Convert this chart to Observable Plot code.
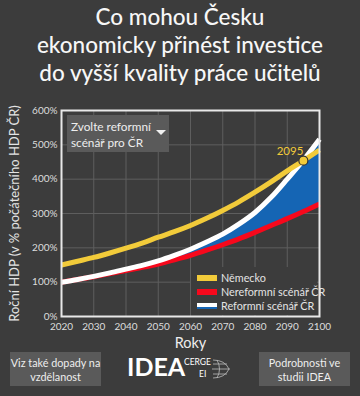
<!DOCTYPE html>
<html><head><meta charset="utf-8">
<script src="https://cdn.jsdelivr.net/npm/d3@7"></script>
<script src="https://cdn.jsdelivr.net/npm/@observablehq/plot@0.6"></script>
<style>
html,body{margin:0;padding:0;background:#3c3c3c;}
#wrap{position:relative;width:360px;height:396px;overflow:hidden;font-family:Lato,"Open Sans",sans-serif;color:#eee;}
#chart{position:absolute;left:0;top:0;}
#title{position:absolute;left:0;top:3px;width:360px;text-align:center;font-size:22.5px;line-height:28px;color:#f7f7f7;font-weight:500;}
#dropdown{position:absolute;left:67px;top:115px;width:102px;height:37px;background:#5a5a5a;color:#eee;font-size:11.8px;line-height:15.5px;box-sizing:border-box;padding:4px 0 0 4px;}
#dropdown .tri{position:absolute;left:89px;top:15px;width:0;height:0;border-left:5px solid transparent;border-right:5px solid transparent;border-top:5px solid #f0f0f0;}
#legend{position:absolute;left:191px;top:267px;width:126px;height:48px;background:#3c3c3c;font-size:10.8px;color:#e4e4e4;}
#legend .item{position:absolute;left:6px;height:14px;line-height:14px;white-space:nowrap;}
#legend .sw{display:inline-block;width:20px;height:6px;vertical-align:middle;margin-right:4px;position:relative;top:-1px;}
.btn{position:absolute;top:352px;width:91px;height:34px;background:#5a5a5a;color:#eee;font-size:10.8px;line-height:13.5px;text-align:center;box-sizing:border-box;padding-top:4px;}
#logo{position:absolute;left:127px;top:354px;width:110px;height:30px;}
#logo .idea{position:absolute;left:0;top:-3px;font-size:25px;font-weight:bold;color:#fff;letter-spacing:0;}
#logo .cerge{position:absolute;left:57px;top:3px;font-size:8.5px;color:#fff;}
#logo .ei{position:absolute;left:72px;top:15px;font-size:8.5px;color:#fff;}
</style></head><body>
<div id="wrap">
<div id="chart"></div>
<div id="title">Co mohou Česku<br>ekonomicky přinést investice<br>do vyšší kvality práce učitelů</div>
<div id="dropdown">Zvolte reformní<br>scénář pro ČR<div class="tri"></div></div>
<div id="legend"></div>
<div class="btn" style="left:10px">Viz také dopady na<br>vzdělanost</div>
<div class="btn" style="left:259px">Podrobnosti ve<br>studii IDEA</div>
<div id="logo"><span class="idea">IDEA</span><span class="cerge">CERGE</span><span class="ei">EI</span>
<svg style="position:absolute;left:58px;top:2px" width="50" height="26" viewBox="0 0 50 26" fill="none" stroke="#bbb" stroke-width="0.8">
<path d="M28 4 Q40 4 44 13 Q40 22 28 22"/><path d="M32 4 Q37 13 32 22"/><path d="M27 13 L45 13"/><path d="M28 8 L42 8"/><path d="M28 18 L42 18"/></svg>
</div>
</div>
<script>
const years      = [2020,2025,2030,2035,2040,2045,2050,2055,2060,2065,2070,2075,2080,2085,2090,2095,2100];
const germany    = [150, 161, 172, 185, 199, 214, 231, 247, 265, 286, 309, 334, 362, 392, 424, 454, 485];
const nonReform  = [100, 108, 116, 125, 134, 143, 153, 165, 178, 193, 209, 226, 245, 265, 285, 306, 328];
const reform     = [100, 108, 117, 127, 138, 149, 162, 178, 196, 217, 240, 269, 303, 347, 400, 455, 516];
const crossYear  = [2095];
const crossValue = [454];
const crossLabel = ["2095"];
const xTicks = [2020,2030,2040,2050,2060,2070,2080,2090,2100];
const yTicks = [0,100,200,300,400,500,600];
const seriesNames = ["Německo","Nereformní scénář ČR","Reformní scénář ČR"];
const colors = {de:"#f2cb3a", nr:"#f7081c", rf:"#ffffff", fill:"#1565b4"};
const yLabel = "Roční HDP (v % počátečního HDP ČR)";
const xLabel = "Roky";

const data = years.map((y,i)=>({year:y, de:germany[i], nr:nonReform[i], rf:reform[i]}));
const cross = crossYear.map((y,i)=>({year:y, v:crossValue[i], t:crossLabel[i]}));

const plot = Plot.plot({
  width:360, height:396,
  marginLeft:61, marginRight:41, marginTop:110, marginBottom:80,
  style:{background:"transparent", color:"#dddddd", fontFamily:"Lato, 'Open Sans', sans-serif", fontSize:"10px"},
  x:{domain:[2020,2100], ticks:xTicks, tickFormat:d=>String(d), tickSize:0, tickPadding:6, label:null},
  y:{domain:[0,600], ticks:yTicks, tickFormat:d=>d+"%", tickSize:0, tickPadding:4, label:null},
  marks:[
    Plot.gridX(xTicks,{stroke:"#5e5e5e", strokeOpacity:1}),
    Plot.gridY(yTicks,{stroke:"#5e5e5e", strokeOpacity:1}),
    Plot.areaY(data,{x:"year", y1:"nr", y2:"rf", fill:colors.fill, curve:"monotone-x"}),
    Plot.lineY(data,{x:"year", y:"nr", stroke:colors.nr, strokeWidth:5, strokeLinecap:"butt", curve:"monotone-x"}),
    Plot.lineY(data,{x:"year", y:"rf", stroke:colors.rf, strokeWidth:5, strokeLinecap:"butt", curve:"monotone-x"}),
    Plot.lineY(data,{x:"year", y:"de", stroke:colors.de, strokeWidth:5, strokeLinecap:"butt", curve:"monotone-x"}),
    Plot.dot(cross,{x:"year", y:"v", r:4.5, fill:colors.de, stroke:"#333", strokeWidth:1.2}),
    Plot.text(cross,{x:"year", y:"v", text:"t", textAnchor:"end", dy:-9, fill:colors.de, fontSize:11.5}),
    Plot.frame({stroke:"#e8e8e8", strokeWidth:2}),
    Plot.text([yLabel],{frameAnchor:"left", textAnchor:"middle", lineAnchor:"middle", rotate:-90, dx:-47, fontSize:13, fill:"#e4e4e4"}),
    Plot.text([xLabel],{frameAnchor:"bottom", lineAnchor:"middle", dy:27, fontSize:14.5, fill:"#eeeeee"})
  ]
});
document.getElementById("chart").appendChild(plot);

const legend = document.getElementById("legend");
const swatches = [
  `background:${colors.de}`,
  `background:${colors.nr}`,
  `background:linear-gradient(#fff 0 60%, ${colors.fill} 60% 100%)`
];
seriesNames.forEach((n,i)=>{
  const d = document.createElement("div");
  d.className = "item";
  d.style.top = (4 + i*14) + "px";
  d.innerHTML = `<span class="sw" style="${swatches[i]}"></span>${n}`;
  legend.appendChild(d);
});
</script>
</body></html>
